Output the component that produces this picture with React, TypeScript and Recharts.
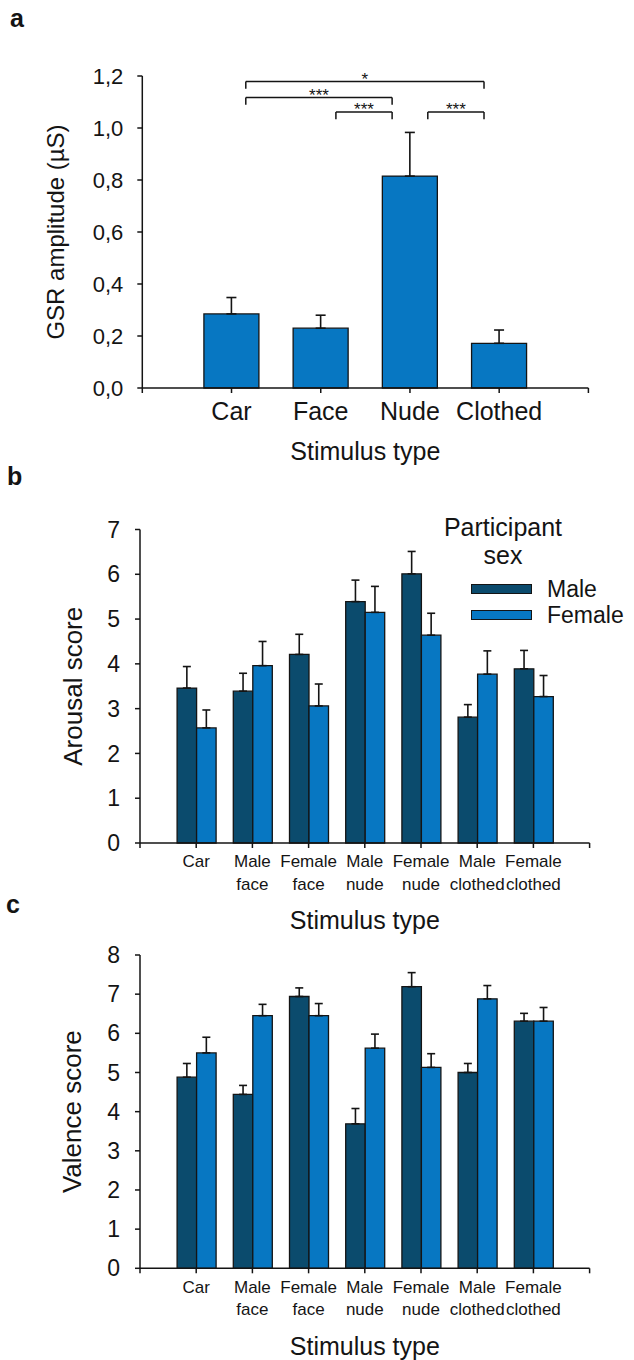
import React from "react";
import {
  BarChart,
  Bar,
  XAxis,
  YAxis,
  ErrorBar,
  ReferenceLine,
  Legend,
} from "recharts";

const FONT = '"Liberation Sans", Arial, Helvetica, sans-serif';
const INK = "#141414";
const DARK = "#0b4b6d";
const LIGHT = "#0777c2";

// panel a - GSR amplitude by stimulus type
const gsrCategories = ["Car", "Face", "Nude", "Clothed"];
const gsrMean = [0.285, 0.23, 0.815, 0.172];
const gsrSem = [0.063, 0.05, 0.168, 0.051];
const gsrTicks = [0, 0.2, 0.4, 0.6, 0.8, 1.0, 1.2];
const gsrBrackets = [
  { from: 1.16, to: 3.83, y: 1.179, label: "*" },
  { from: 1.16, to: 2.8, y: 1.117, label: "***" },
  { from: 2.17, to: 2.8, y: 1.062, label: "***" },
  { from: 3.2, to: 3.83, y: 1.062, label: "***" },
];
const bracketDrop = 0.028;

// panels b and c - ratings by participant sex
const stimuli = [
  "Car",
  "Male face",
  "Female face",
  "Male nude",
  "Female nude",
  "Male clothed",
  "Female clothed",
];
const sexes = ["Male", "Female"];
const arousalMale = [3.46, 3.39, 4.21, 5.39, 6.01, 2.81, 3.89];
const arousalMaleSem = [0.48, 0.4, 0.45, 0.48, 0.5, 0.28, 0.41];
const arousalFemale = [2.57, 3.96, 3.06, 5.15, 4.64, 3.77, 3.27];
const arousalFemaleSem = [0.4, 0.54, 0.49, 0.58, 0.49, 0.52, 0.47];
const arousalTicks = [0, 1, 2, 3, 4, 5, 6, 7];

const valenceMale = [4.88, 4.44, 6.94, 3.69, 7.19, 5.0, 6.31];
const valenceMaleSem = [0.35, 0.23, 0.22, 0.39, 0.36, 0.23, 0.2];
const valenceFemale = [5.5, 6.45, 6.45, 5.62, 5.13, 6.88, 6.31];
const valenceFemaleSem = [0.4, 0.29, 0.31, 0.36, 0.35, 0.34, 0.35];
const valenceTicks = [0, 1, 2, 3, 4, 5, 6, 7, 8];

const gsrData = gsrCategories.map((name, i) => ({
  name,
  pos: i + 1,
  mean: gsrMean[i],
  err: [0, gsrSem[i]],
}));

const makeRows = (m: number[], ms: number[], f: number[], fs: number[]) =>
  stimuli.map((name, i) => ({
    name,
    pos: i + 1,
    male: m[i],
    maleErr: [0, ms[i]],
    female: f[i],
    femaleErr: [0, fs[i]],
  }));

const arousalData = makeRows(arousalMale, arousalMaleSem, arousalFemale, arousalFemaleSem);
const valenceData = makeRows(valenceMale, valenceMaleSem, valenceFemale, valenceFemaleSem);
const stimulusPositions = [0, ...stimuli.map((_, i) => i + 1), stimuli.length + 1];

function YTitle(props: any) {
  const { viewBox, text, cx, size } = props;
  const cy = viewBox ? viewBox.y + viewBox.height / 2 : 0;
  return (
    <text
      x={cx}
      y={cy}
      transform={`rotate(-90, ${cx}, ${cy})`}
      textAnchor="middle"
      dy="0.36em"
      fontSize={size}
      fill={INK}
      fontFamily={FONT}
    >
      {text}
    </text>
  );
}

function XTitle(props: any) {
  const { viewBox, text, gap } = props;
  if (!viewBox) return null;
  return (
    <text
      x={viewBox.x + viewBox.width / 2}
      y={viewBox.y + gap}
      textAnchor="middle"
      fontSize={25}
      fill={INK}
      fontFamily={FONT}
    >
      {text}
    </text>
  );
}

function StimulusTick(props: any) {
  const { x, y, payload } = props;
  const label = stimuli[payload.value - 1];
  if (!label) return null;
  const lines = label.split(" ");
  return (
    <text x={x} y={y} textAnchor="middle" fill={INK} fontSize={17} fontFamily={FONT}>
      {lines.map((line, i) => (
        <tspan key={line} x={x} dy={i === 0 ? "0.72em" : 22.5}>
          {line}
        </tspan>
      ))}
    </text>
  );
}

function SexLegend(props: any) {
  const items = [...(props.payload || [])].sort(
    (a: any, b: any) => sexes.indexOf(a.value) - sexes.indexOf(b.value)
  );
  return (
    <div style={{ fontFamily: FONT, color: INK, fontSize: 25 }}>
      <div style={{ width: 166, textAlign: "center", lineHeight: "28px" }}>
        Participant
        <br />
        sex
      </div>
      <div style={{ paddingLeft: 51, marginTop: 7 }}>
        {items.map((item: any) => (
          <div key={item.value} style={{ display: "flex", alignItems: "center", height: 26 }}>
            <span
              style={{
                width: 61,
                height: 10,
                background: item.color,
                border: `1.5px solid ${INK}`,
                boxSizing: "border-box",
              }}
            />
            <span style={{ marginLeft: 15, fontSize: 23, lineHeight: "24px" }}>
              {item.value}
            </span>
          </div>
        ))}
      </div>
    </div>
  );
}

const axisLine = { stroke: INK, strokeWidth: 1.5 };
const panelLabel = (top: number, left: number): React.CSSProperties => ({
  position: "absolute",
  top,
  left,
  fontFamily: FONT,
  fontWeight: 700,
  fontSize: 25,
  lineHeight: 1,
  color: INK,
});

function RatingChart(props: any) {
  const { data, ticks, title, titleX, margin, height, xHeight, titleGap, legend } = props;
  return (
    <BarChart width={634} height={height} data={data} margin={margin} barGap={0}>
      <XAxis
        type="number"
        dataKey="pos"
        domain={[0, stimuli.length + 1]}
        ticks={stimulusPositions}
        interval={0}
        height={xHeight}
        axisLine={axisLine}
        tickLine={axisLine}
        tickSize={5}
        tickMargin={7}
        tick={<StimulusTick />}
        label={<XTitle text="Stimulus type" gap={titleGap} />}
      />
      <YAxis
        width={60}
        domain={[0, ticks[ticks.length - 1]]}
        ticks={ticks}
        interval={0}
        axisLine={axisLine}
        tickLine={axisLine}
        tickSize={5}
        tickMargin={15}
        tick={{ fill: INK, fontSize: 23, fontFamily: FONT }}
        label={<YTitle text={title} cx={titleX} size={26} />}
      />
      {legend && (
        <Legend
          layout="horizontal"
          align="center"
          verticalAlign="middle"
          content={(p: any) => <SexLegend {...p} />}
          wrapperStyle={{ left: 420, top: 53, width: 214 }}
        />
      )}
      <Bar dataKey="male" name="Male" fill={DARK} stroke={INK} strokeWidth={1.3} barSize={19.5} isAnimationActive={false}>
        <ErrorBar dataKey="maleErr" direction="y" width={4} stroke={INK} strokeWidth={1.6} />
      </Bar>
      <Bar dataKey="female" name="Female" fill={LIGHT} stroke={INK} strokeWidth={1.3} barSize={19.5} isAnimationActive={false}>
        <ErrorBar dataKey="femaleErr" direction="y" width={4} stroke={INK} strokeWidth={1.6} />
      </Bar>
    </BarChart>
  );
}

export default function App() {
  return (
    <div
      style={{
        position: "absolute",
        left: 0,
        top: 0,
        width: 634,
        height: 1360,
        background: "#fff",
        overflow: "hidden",
      }}
    >
      <div style={{ position: "absolute", left: 0, top: 0 }}>
        <BarChart
          width={634}
          height={475}
          data={gsrData}
          margin={{ top: 76, right: 45.6, left: 82.3, bottom: 15 }}
        >
          <XAxis
            type="number"
            dataKey="pos"
            domain={[0, 5]}
            ticks={[0, 1, 2, 3, 4, 5]}
            interval={0}
            height={72}
            axisLine={axisLine}
            tickLine={axisLine}
            tickSize={5}
            tickMargin={9}
            tickFormatter={(v: number) => gsrCategories[v - 1] ?? ""}
            tick={{ fill: INK, fontSize: 25, fontFamily: FONT }}
            label={<XTitle text="Stimulus type" gap={71.5} />}
          />
          <YAxis
            width={60}
            domain={[0, 1.2]}
            ticks={gsrTicks}
            interval={0}
            axisLine={axisLine}
            tickLine={axisLine}
            tickSize={5}
            tickMargin={14}
            tickFormatter={(v: number) => v.toFixed(1).replace(".", ",")}
            tick={{ fill: INK, fontSize: 22, fontFamily: FONT }}
            label={<YTitle text="GSR amplitude (µS)" cx={55} size={24} />}
          />
          {gsrBrackets.map((b, i) => (
            <ReferenceLine
              key={`h${i}`}
              segment={[
                { x: b.from, y: b.y },
                { x: b.to, y: b.y },
              ]}
              stroke={INK}
              strokeWidth={1.5}
              ifOverflow="visible"
              label={{ value: b.label, position: "top", offset: -3.5, fontSize: 17, fill: INK, fontFamily: FONT }}
            />
          ))}
          {gsrBrackets.flatMap((b, i) =>
            [b.from, b.to].map((x, j) => (
              <ReferenceLine
                key={`v${i}-${j}`}
                segment={[
                  { x, y: b.y },
                  { x, y: b.y - bracketDrop },
                ]}
                stroke={INK}
                strokeWidth={1.5}
                ifOverflow="visible"
              />
            ))
          )}
          <Bar dataKey="mean" fill={LIGHT} stroke={INK} strokeWidth={1.3} barSize={55} isAnimationActive={false}>
            <ErrorBar dataKey="err" direction="y" width={5} stroke={INK} strokeWidth={1.6} />
          </Bar>
        </BarChart>
      </div>

      <div style={{ position: "absolute", left: 0, top: 460 }}>
        <RatingChart
          data={arousalData}
          ticks={arousalTicks}
          title="Arousal score"
          titleX={73}
          height={480}
          xHeight={97}
          titleGap={86}
          margin={{ top: 69.5, right: 44.4, left: 80, bottom: 0 }}
          legend
        />
      </div>

      <div style={{ position: "absolute", left: 0, top: 940 }}>
        <RatingChart
          data={valenceData}
          ticks={valenceTicks}
          title="Valence score"
          titleX={72}
          height={420}
          xHeight={91.7}
          titleGap={87}
          margin={{ top: 15, right: 44.4, left: 80, bottom: 0 }}
        />
      </div>

      <div style={panelLabel(6, 10)}>a</div>
      <div style={panelLabel(464, 7)}>b</div>
      <div style={panelLabel(892, 6)}>c</div>
    </div>
  );
}
